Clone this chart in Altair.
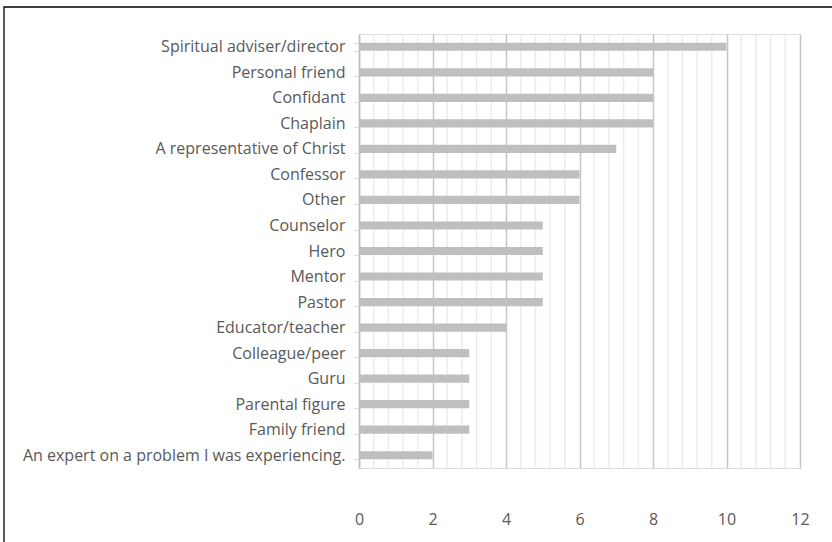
import altair as alt
import pandas as pd

categories = [
    "Spiritual adviser/director", "Personal friend", "Confidant", "Chaplain",
    "A representative of Christ", "Confessor", "Other", "Counselor", "Hero",
    "Mentor", "Pastor", "Educator/teacher", "Colleague/peer", "Guru",
    "Parental figure", "Family friend", "An expert on a problem I was experiencing.",
]
counts = [10, 8, 8, 8, 7, 6, 6, 5, 5, 5, 5, 4, 3, 3, 3, 3, 2]
major_ticks = [0, 2, 4, 6, 8, 10, 12]
minor_ticks = [0.4, 0.8, 1.2, 1.6, 2.4, 2.8, 3.2, 3.6, 4.4, 4.8, 5.2, 5.6,
               6.4, 6.8, 7.2, 7.6, 8.4, 8.8, 9.2, 9.6, 10.4, 10.8, 11.2, 11.6]

df = pd.DataFrame({"category": categories, "count": counts})
minor_df = pd.DataFrame({"count": minor_ticks})

FONT = "Open Sans"
xscale = alt.Scale(domain=[0, 12], nice=False, zero=True)
xaxis = alt.Axis(
    values=major_ticks, grid=True, gridColor="#c6c6c6", gridWidth=1.5,
    domain=False, ticks=False, labelPadding=43, labelFlush=False,
    labelFont=FONT, labelFontSize=16, labelColor="#595959",
)

minor = alt.Chart(minor_df).mark_rule(color="#ececec", strokeWidth=1.5).encode(
    x=alt.X("count:Q", scale=xscale, axis=xaxis, title=None)
)

bars = alt.Chart(df).mark_bar(color="#bfbfbf").encode(
    y=alt.Y(
        "category:N",
        sort=categories,
        title=None,
        scale=alt.Scale(paddingInner=0.68, paddingOuter=0.34),
        axis=alt.Axis(
            tickBand="extent", tickSize=5, tickColor="#d9d9d9",
            domainColor="#bfbfbf", domainWidth=1.5, labelPadding=9,
            labelFont=FONT, labelFontSize=16, labelColor="#595959",
            labelLimit=400, grid=False,
        ),
    ),
    x=alt.X("count:Q", scale=xscale, title=None, axis=xaxis),
)

border = alt.Chart(alt.Data(values=[{}])).mark_rect(
    fill=None, stroke="black", strokeWidth=1.3
).encode(
    x=alt.value(-355), x2=alt.value(490), y=alt.value(-27), y2=alt.value(520)
)

chart = alt.layer(minor, bars, border).properties(
    width=441, height=434,
    autosize=alt.AutoSizeParams(type="none"),
    padding={"left": 359, "top": 34, "right": 32, "bottom": 74},
).configure_view(stroke=None).configure(background="white")

chart.save("out.html", embed_options={"renderer": "svg", "actions": False})
